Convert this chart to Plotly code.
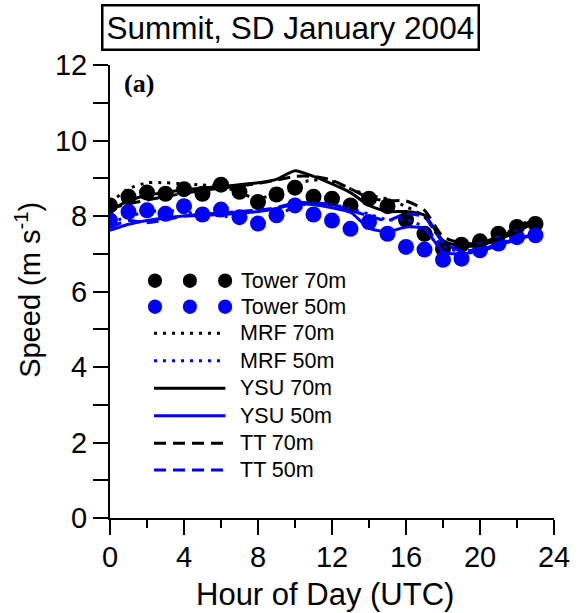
import plotly.graph_objects as go

hours = list(range(24))
tower70 = [8.28, 8.51, 8.62, 8.59, 8.71, 8.59, 8.83, 8.64, 8.37, 8.57, 8.75, 8.51,
           8.46, 8.28, 8.46, 8.26, 7.90, 7.53, 7.13, 7.24, 7.33, 7.53, 7.71, 7.79]
tower50 = [7.88, 8.11, 8.15, 8.06, 8.26, 8.04, 8.17, 7.97, 7.80, 8.02, 8.28, 8.04,
           7.88, 7.66, 7.84, 7.53, 7.18, 7.11, 6.84, 6.87, 7.09, 7.27, 7.44, 7.49]
mrf70 = [8.35, 8.72, 8.88, 8.88, 8.85, 8.82, 8.80, 8.62, 8.45, 8.62, 8.85, 8.95,
         8.92, 8.72, 8.55, 8.45, 8.25, 7.98, 7.32, 7.22, 7.30, 7.45, 7.70, 7.98]
mrf50 = [7.80, 8.00, 8.10, 8.15, 8.10, 8.05, 8.00, 7.95, 7.90, 8.00, 8.25, 8.35,
         8.30, 8.20, 8.05, 7.90, 7.90, 7.70, 7.20, 7.05, 7.10, 7.25, 7.45, 7.60]
ysu70 = [8.15, 8.40, 8.55, 8.62, 8.70, 8.74, 8.78, 8.83, 8.88, 8.97, 9.20, 9.05,
         8.85, 8.62, 8.28, 8.12, 8.12, 8.02, 7.35, 7.20, 7.22, 7.38, 7.58, 7.85]
ysu50 = [7.62, 7.78, 7.88, 7.95, 8.00, 8.02, 8.04, 8.08, 8.12, 8.20, 8.32, 8.30,
         8.22, 8.10, 7.68, 7.58, 7.71, 7.66, 7.05, 7.00, 7.08, 7.22, 7.38, 7.50]
tt70 = [8.20, 8.32, 8.42, 8.52, 8.60, 8.68, 8.74, 8.80, 8.86, 8.95, 9.05, 9.05,
        8.95, 8.72, 8.48, 8.40, 8.40, 8.15, 7.45, 7.28, 7.28, 7.45, 7.65, 7.95]
tt50 = [7.70, 7.88, 7.82, 7.90, 8.00, 8.05, 8.08, 8.12, 8.16, 8.22, 8.35, 8.35,
        8.30, 8.15, 8.00, 7.88, 8.06, 7.97, 7.30, 7.08, 7.12, 7.25, 7.40, 7.52]

x_ticks = [0, 4, 8, 12, 16, 20, 24]
y_ticks = [0, 2, 4, 6, 8, 10, 12]

BLUE = "#0000ff"
BLACK = "#000000"
DOT = "3px,6px"
DASH = "12px,7px"
FONT = "Liberation Sans, Arial, sans-serif"

W, H = 582, 613
L, R, T, B = 110, 18, 65, 95
PW, PH = W - L - R, H - T - B


def px(xp):
    return (xp - L) / PW


def py(yp):
    return (H - B - yp) / PH


fig = go.Figure()
fig.add_trace(go.Scatter(x=hours, y=tower70, mode="markers",
                         marker=dict(size=16, color=BLACK), name="Tower 70m"))
fig.add_trace(go.Scatter(x=hours, y=tower50, mode="markers",
                         marker=dict(size=16, color=BLUE), name="Tower 50m"))
series = [
    ("MRF 70m", mrf70, BLACK, DOT),
    ("MRF 50m", mrf50, BLUE, DOT),
    ("YSU 70m", ysu70, BLACK, "solid"),
    ("YSU 50m", ysu50, BLUE, "solid"),
    ("TT 70m", tt70, BLACK, DASH),
    ("TT 50m", tt50, BLUE, DASH),
]
for name, vals, col, dash in series:
    fig.add_trace(go.Scatter(x=hours, y=vals, mode="lines", name=name,
                             line=dict(color=col, width=3, dash=dash,
                                       shape="spline", smoothing=0.6)))

# manual legend (drawn in paper coordinates)
rows = [280.7, 306.7, 333.3, 360.7, 388.3, 415.7, 443.3, 470.0]
labels = ["Tower 70m", "Tower 50m"] + [s[0] for s in series]
shapes = []
annotations = []
for i, (lab, yrow) in enumerate(zip(labels, rows)):
    yp = py(yrow)
    if i < 2:
        col = BLACK if i == 0 else BLUE
        for cx in (156, 191.7, 227.7):
            shapes.append(dict(type="circle", xref="paper", yref="paper",
                               x0=px(cx - 7.2), x1=px(cx + 7.2),
                               y0=py(yrow + 7.2), y1=py(yrow - 7.2),
                               fillcolor=col, line=dict(width=0)))
        tx = 242
    else:
        _, _, col, dash = series[i - 2]
        shapes.append(dict(type="line", xref="paper", yref="paper",
                           x0=px(155), x1=px(228), y0=yp, y1=yp,
                           line=dict(color=col, width=3, dash=dash)))
        tx = 241
    annotations.append(dict(text=lab, x=px(tx), y=yp, xref="paper", yref="paper",
                            xanchor="left", yanchor="middle", showarrow=False,
                            font=dict(family=FONT, size=21.5, color=BLACK)))

annotations.append(dict(text="Summit, SD January 2004", x=px(295), y=py(27),
                        xref="paper", yref="paper", xanchor="center", yanchor="middle",
                        showarrow=False, bordercolor=BLACK, borderwidth=2.5, borderpad=3,
                        font=dict(family=FONT, size=31.5, color=BLACK)))
annotations.append(dict(text="<b>(a)</b>", x=px(122), y=py(83),
                        xref="paper", yref="paper", xanchor="left", yanchor="middle",
                        showarrow=False,
                        font=dict(family="Liberation Serif, Times New Roman, serif",
                                  size=26, color=BLACK)))
annotations.append(dict(text="Speed (m s<sup>-1</sup>)", x=px(26), y=py(290),
                        xref="paper", yref="paper", xanchor="center", yanchor="middle",
                        textangle=-90, showarrow=False,
                        font=dict(family=FONT, size=29, color=BLACK)))
annotations.append(dict(text="Hour of Day (UTC)", x=px(330), y=py(594),
                        xref="paper", yref="paper", xanchor="center", yanchor="middle",
                        showarrow=False,
                        font=dict(family=FONT, size=31, color=BLACK)))

fig.update_layout(
    width=W, height=H,
    margin=dict(l=L, r=R, t=T, b=B),
    paper_bgcolor="white", plot_bgcolor="white",
    showlegend=False,
    shapes=shapes, annotations=annotations,
    xaxis=dict(range=[0, 24], tickvals=x_ticks, ticktext=[str(v) for v in x_ticks],
               showgrid=False, zeroline=False, showline=True, linecolor=BLACK,
               linewidth=2, ticks="outside", ticklen=15, tickwidth=2,
               tickcolor=BLACK, ticklabelstandoff=-3,
               minor=dict(dtick=2, tick0=0, ticks="outside", ticklen=8,
                          tickwidth=2, tickcolor=BLACK, showgrid=False),
               tickfont=dict(family=FONT, size=29, color=BLACK)),
    yaxis=dict(range=[0, 12], tickvals=y_ticks, ticktext=[str(v) for v in y_ticks],
               showgrid=False, zeroline=False, showline=True, linecolor=BLACK,
               linewidth=2, ticks="outside", ticklen=15, tickwidth=2,
               tickcolor=BLACK, ticklabelstandoff=0,
               minor=dict(dtick=1, tick0=0, ticks="outside", ticklen=15,
                          tickwidth=2, tickcolor=BLACK, showgrid=False),
               tickfont=dict(family=FONT, size=29, color=BLACK)),
)

fig.write_html("out.html")
